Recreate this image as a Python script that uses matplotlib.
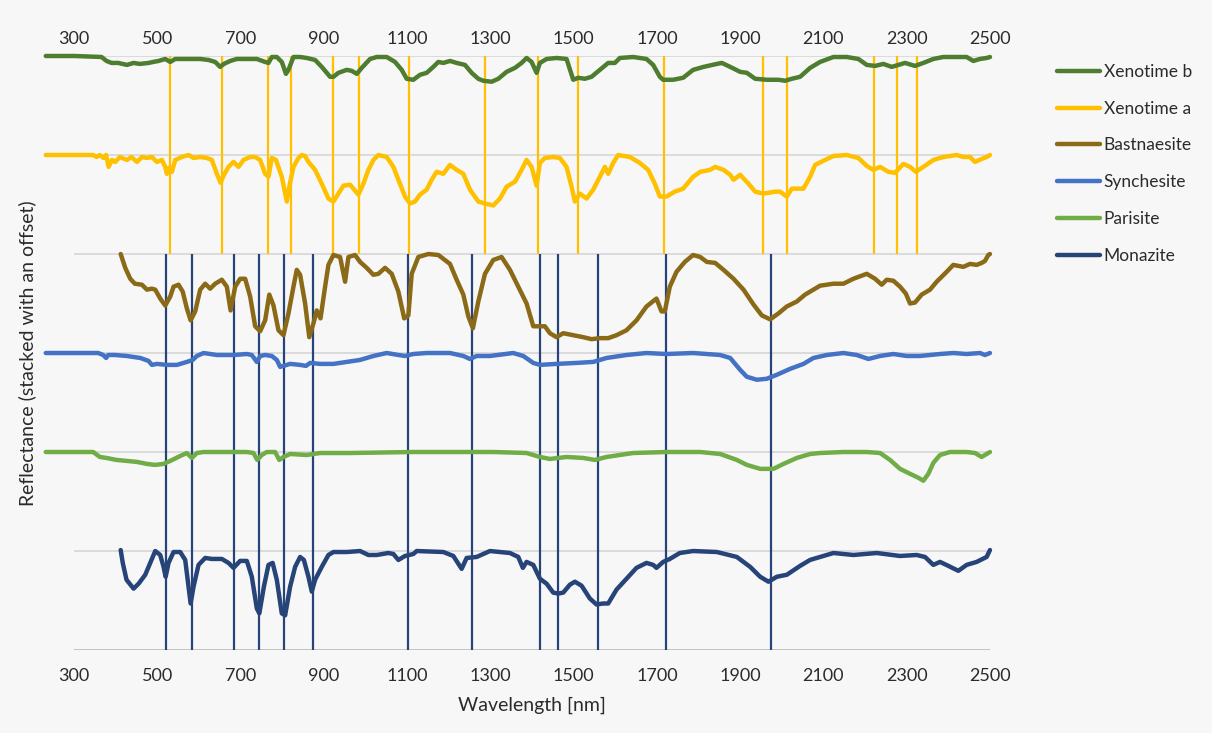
import numpy as np
import matplotlib.pyplot as plt

plt.rcParams['font.family'] = ['Lato', 'DejaVu Sans']

names = ['Xenotime b', 'Xenotime a', 'Bastnaesite', 'Synchesite', 'Parisite', 'Monazite']
colours = ['#4E7D2F', '#FFC000', '#8A6A17', '#4472C4', '#70AD47', '#264478']
offsets = [5, 4, 3, 2, 1, 0]

# (wavelength nm, normalised reflectance)
xeno_b = [(232, 1.00), (302, 1.00), (366, 0.99), (378, 0.95), (390, 0.93), (406, 0.93),
          (427, 0.91), (443, 0.93), (458, 0.92), (479, 0.93), (490, 0.94), (503, 0.95),
          (519, 0.97), (531, 0.94), (543, 0.97), (559, 0.97), (583, 0.97), (603, 0.97),
          (623, 0.96), (639, 0.94), (651, 0.89), (660, 0.92), (675, 0.95), (691, 0.97),
          (715, 0.97), (739, 0.97), (759, 0.94), (767, 0.93), (775, 0.99), (787, 0.99),
          (799, 0.94), (809, 0.82), (815, 0.86), (827, 0.99), (843, 0.99), (859, 0.98),
          (879, 0.96), (895, 0.89), (915, 0.79), (923, 0.79), (935, 0.83), (955, 0.86),
          (967, 0.85), (979, 0.82), (991, 0.88), (1011, 0.97), (1027, 0.99), (1051, 0.99),
          (1071, 0.94), (1087, 0.86), (1099, 0.77), (1115, 0.76), (1131, 0.81), (1147, 0.83),
          (1163, 0.89), (1175, 0.94), (1187, 0.93), (1203, 0.95), (1219, 0.93), (1239, 0.91),
          (1255, 0.83), (1271, 0.77), (1283, 0.75), (1303, 0.74), (1319, 0.77), (1339, 0.84),
          (1359, 0.88), (1375, 0.93), (1387, 0.98), (1399, 0.94), (1411, 0.83), (1419, 0.93),
          (1435, 0.97), (1459, 0.98), (1483, 0.97), (1499, 0.76), (1511, 0.78), (1527, 0.77),
          (1543, 0.79), (1563, 0.86), (1583, 0.93), (1599, 0.93), (1611, 0.98), (1643, 0.99),
          (1675, 0.97), (1691, 0.91), (1707, 0.79), (1715, 0.76), (1739, 0.76), (1763, 0.78),
          (1787, 0.86), (1812, 0.89), (1844, 0.92), (1856, 0.93), (1876, 0.89), (1900, 0.84),
          (1916, 0.83), (1936, 0.77), (1964, 0.76), (1992, 0.76), (2008, 0.75), (2024, 0.77),
          (2044, 0.79), (2068, 0.88), (2092, 0.94), (2124, 0.99), (2156, 0.99), (2184, 0.97),
          (2204, 0.91), (2224, 0.90), (2244, 0.92), (2264, 0.89), (2280, 0.91), (2296, 0.93),
          (2320, 0.90), (2340, 0.93), (2364, 0.97), (2388, 0.99), (2420, 0.99), (2444, 0.99),
          (2460, 0.95), (2476, 0.97), (2492, 0.98), (2500, 0.99)]

xeno_a = [(232, 1.00), (346, 1.00), (354, 0.98), (362, 1.00), (371, 0.97), (377, 1.00),
          (383, 0.88), (391, 0.95), (399, 0.93), (410, 0.98), (427, 0.95), (438, 0.98),
          (451, 0.93), (463, 0.98), (475, 0.97), (487, 0.98), (499, 0.93), (511, 0.95),
          (519, 0.88), (523, 0.81), (527, 0.87), (535, 0.83), (543, 0.95), (559, 0.98),
          (575, 1.00), (587, 0.97), (603, 0.98), (619, 0.97), (631, 0.95), (643, 0.81),
          (652, 0.72), (660, 0.80), (671, 0.88), (683, 0.93), (695, 0.88), (707, 0.95),
          (723, 0.98), (735, 0.98), (747, 0.95), (759, 0.81), (767, 0.78), (775, 0.97),
          (785, 0.95), (799, 0.78), (811, 0.53), (817, 0.68), (827, 0.88), (839, 0.97),
          (847, 1.00), (855, 0.99), (863, 0.93), (879, 0.85), (895, 0.71), (911, 0.56),
          (923, 0.53), (935, 0.61), (947, 0.69), (963, 0.70), (971, 0.66), (983, 0.60),
          (995, 0.71), (1007, 0.85), (1019, 0.95), (1031, 1.00), (1051, 0.98), (1067, 0.88),
          (1083, 0.71), (1095, 0.58), (1107, 0.51), (1119, 0.53), (1131, 0.60), (1147, 0.65),
          (1159, 0.75), (1171, 0.83), (1187, 0.81), (1203, 0.90), (1219, 0.85), (1235, 0.81),
          (1251, 0.65), (1271, 0.53), (1287, 0.51), (1307, 0.49), (1323, 0.56), (1339, 0.68),
          (1359, 0.73), (1375, 0.85), (1387, 0.95), (1399, 0.88), (1411, 0.69), (1419, 0.92),
          (1431, 0.97), (1451, 0.98), (1467, 0.97), (1483, 0.88), (1495, 0.68), (1503, 0.53),
          (1515, 0.61), (1531, 0.56), (1547, 0.65), (1563, 0.78), (1575, 0.88), (1583, 0.81),
          (1595, 0.92), (1607, 1.00), (1635, 0.98), (1659, 0.92), (1679, 0.85), (1695, 0.71),
          (1707, 0.58), (1723, 0.58), (1743, 0.63), (1763, 0.66), (1787, 0.78), (1804, 0.83),
          (1828, 0.85), (1840, 0.88), (1860, 0.85), (1876, 0.80), (1884, 0.75), (1900, 0.80),
          (1920, 0.71), (1936, 0.63), (1956, 0.61), (1984, 0.63), (1996, 0.63), (2012, 0.58),
          (2024, 0.66), (2052, 0.66), (2068, 0.78), (2080, 0.90), (2104, 0.95), (2124, 0.99),
          (2156, 1.00), (2184, 0.97), (2204, 0.89), (2220, 0.85), (2236, 0.88), (2256, 0.83),
          (2272, 0.82), (2292, 0.91), (2308, 0.88), (2322, 0.83), (2340, 0.88), (2364, 0.95),
          (2388, 0.98), (2420, 1.00), (2436, 0.98), (2452, 0.98), (2464, 0.93), (2480, 0.96),
          (2492, 0.98), (2500, 1.00)]

bastnaesite = [(412, 1.00), (423, 0.86), (435, 0.75), (446, 0.70), (463, 0.69), (475, 0.64),
               (487, 0.65), (495, 0.64), (507, 0.55), (519, 0.48), (531, 0.57), (539, 0.67),
               (551, 0.69), (561, 0.62), (571, 0.45), (580, 0.33), (591, 0.42), (603, 0.64),
               (615, 0.70), (627, 0.65), (639, 0.70), (655, 0.74), (667, 0.67), (676, 0.43),
               (687, 0.67), (699, 0.75), (711, 0.75), (723, 0.57), (735, 0.27), (747, 0.22),
               (759, 0.33), (769, 0.59), (779, 0.48), (791, 0.23), (803, 0.18), (815, 0.40),
               (827, 0.67), (835, 0.84), (843, 0.79), (855, 0.50), (865, 0.16), (875, 0.30),
               (883, 0.43), (892, 0.35), (903, 0.67), (911, 0.89), (923, 0.99), (939, 0.97),
               (951, 0.72), (959, 0.97), (975, 0.99), (987, 0.92), (1003, 0.86), (1019, 0.79),
               (1031, 0.80), (1047, 0.86), (1063, 0.80), (1079, 0.62), (1093, 0.35), (1103, 0.38),
               (1111, 0.80), (1127, 0.97), (1151, 1.00), (1175, 0.99), (1203, 0.90), (1219, 0.74),
               (1235, 0.59), (1247, 0.37), (1258, 0.25), (1271, 0.52), (1287, 0.80), (1307, 0.94),
               (1327, 0.97), (1347, 0.84), (1367, 0.67), (1387, 0.50), (1403, 0.27), (1419, 0.27),
               (1431, 0.27), (1443, 0.20), (1459, 0.16), (1475, 0.20), (1499, 0.18), (1523, 0.16),
               (1543, 0.14), (1563, 0.15), (1583, 0.15), (1603, 0.18), (1627, 0.23), (1651, 0.33),
               (1675, 0.47), (1699, 0.55), (1711, 0.42), (1719, 0.42), (1731, 0.67), (1747, 0.82),
               (1767, 0.92), (1787, 0.99), (1804, 0.97), (1820, 0.92), (1840, 0.91), (1860, 0.84),
               (1884, 0.75), (1908, 0.64), (1932, 0.49), (1952, 0.38), (1972, 0.34), (1992, 0.40),
               (2012, 0.47), (2036, 0.52), (2056, 0.59), (2076, 0.64), (2092, 0.68), (2124, 0.70),
               (2148, 0.70), (2172, 0.75), (2204, 0.80), (2224, 0.75), (2240, 0.69), (2252, 0.74),
               (2268, 0.73), (2284, 0.67), (2298, 0.60), (2308, 0.50), (2320, 0.51), (2336, 0.59),
               (2356, 0.64), (2372, 0.72), (2396, 0.82), (2412, 0.89), (2436, 0.87), (2452, 0.90),
               (2468, 0.89), (2480, 0.91), (2488, 0.93), (2496, 0.99), (2500, 1.00)]

synchesite = [(232, 1.00), (358, 1.00), (370, 0.98), (377, 0.95), (382, 0.98), (398, 0.98),
              (427, 0.97), (459, 0.95), (479, 0.92), (487, 0.88), (499, 0.89), (523, 0.88),
              (547, 0.88), (571, 0.91), (585, 0.93), (595, 0.97), (611, 1.00), (643, 0.98),
              (683, 0.98), (715, 0.99), (727, 0.98), (739, 0.91), (747, 0.97), (759, 0.98),
              (775, 0.97), (787, 0.93), (795, 0.86), (803, 0.87), (819, 0.89), (843, 0.88),
              (857, 0.87), (867, 0.90), (891, 0.89), (923, 0.89), (955, 0.91), (987, 0.93),
              (1019, 0.97), (1051, 1.00), (1079, 0.98), (1095, 0.97), (1115, 0.99), (1147, 1.00),
              (1203, 1.00), (1235, 0.97), (1251, 0.94), (1267, 0.97), (1299, 0.97), (1355, 1.00),
              (1379, 0.97), (1403, 0.90), (1419, 0.88), (1459, 0.89), (1507, 0.90), (1547, 0.91),
              (1579, 0.95), (1627, 0.98), (1675, 1.00), (1723, 0.99), (1787, 1.00), (1852, 0.98),
              (1876, 0.95), (1900, 0.83), (1916, 0.76), (1940, 0.73), (1964, 0.74), (1988, 0.78),
              (2020, 0.84), (2052, 0.89), (2076, 0.95), (2108, 0.98), (2148, 1.00), (2180, 0.98),
              (2208, 0.94), (2236, 0.97), (2268, 0.99), (2300, 0.97), (2332, 0.97), (2380, 0.99),
              (2412, 1.00), (2444, 0.99), (2476, 1.00), (2488, 0.98), (2500, 1.00)]

parisite = [(232, 1.00), (346, 1.00), (362, 0.95), (378, 0.94), (402, 0.92), (427, 0.91),
            (451, 0.90), (475, 0.88), (494, 0.87), (515, 0.88), (531, 0.91), (555, 0.96),
            (571, 0.99), (583, 0.94), (595, 0.99), (611, 1.00), (643, 1.00), (683, 1.00),
            (715, 1.00), (731, 0.99), (740, 0.92), (751, 0.97), (763, 1.00), (783, 1.00),
            (793, 0.92), (803, 0.95), (819, 0.98), (859, 0.97), (891, 0.99), (963, 0.99),
            (1115, 1.00), (1203, 1.00), (1307, 1.00), (1387, 0.99), (1419, 0.95), (1443, 0.93),
            (1483, 0.95), (1523, 0.94), (1551, 0.92), (1579, 0.95), (1643, 0.99), (1723, 1.00),
            (1804, 1.00), (1852, 0.98), (1892, 0.92), (1916, 0.87), (1948, 0.83), (1980, 0.83),
            (2004, 0.88), (2036, 0.94), (2068, 0.98), (2092, 0.99), (2148, 1.00), (2204, 1.00),
            (2236, 0.99), (2260, 0.92), (2284, 0.83), (2308, 0.78), (2328, 0.74), (2340, 0.71),
            (2352, 0.78), (2364, 0.89), (2380, 0.97), (2404, 1.00), (2444, 1.00), (2464, 0.99),
            (2480, 0.95), (2492, 0.98), (2500, 1.00)]

monazite = [(412, 1.01), (417, 0.88), (426, 0.71), (443, 0.62), (455, 0.67), (471, 0.76),
            (483, 0.88), (495, 1.00), (507, 0.96), (515, 0.84), (520, 0.74), (527, 0.88),
            (539, 0.99), (555, 0.99), (567, 0.91), (575, 0.64), (580, 0.47), (587, 0.64),
            (599, 0.86), (615, 0.93), (631, 0.92), (655, 0.92), (671, 0.88), (683, 0.83),
            (699, 0.90), (715, 0.90), (727, 0.74), (739, 0.42), (745, 0.37), (756, 0.64),
            (767, 0.86), (777, 0.88), (787, 0.71), (799, 0.37), (807, 0.35), (819, 0.64),
            (831, 0.84), (843, 0.94), (852, 0.91), (863, 0.74), (871, 0.59), (879, 0.71),
            (895, 0.84), (911, 0.96), (923, 0.99), (955, 0.99), (987, 1.00), (1007, 0.96),
            (1027, 0.96), (1055, 0.98), (1067, 0.97), (1079, 0.91), (1095, 0.95), (1115, 0.97),
            (1123, 1.00), (1187, 0.99), (1211, 0.95), (1231, 0.82), (1243, 0.93), (1267, 0.94),
            (1299, 1.00), (1347, 0.98), (1367, 0.94), (1378, 0.83), (1387, 0.89), (1403, 0.86),
            (1419, 0.72), (1435, 0.67), (1451, 0.58), (1463, 0.57), (1475, 0.58), (1491, 0.66),
            (1503, 0.69), (1519, 0.65), (1539, 0.52), (1555, 0.46), (1571, 0.47), (1583, 0.47),
            (1603, 0.61), (1627, 0.72), (1651, 0.83), (1675, 0.88), (1691, 0.86), (1699, 0.83),
            (1715, 0.89), (1731, 0.92), (1755, 0.98), (1787, 1.00), (1844, 0.99), (1892, 0.94),
            (1924, 0.84), (1948, 0.74), (1968, 0.69), (1988, 0.74), (2012, 0.76), (2044, 0.85),
            (2068, 0.91), (2092, 0.94), (2124, 0.98), (2172, 0.96), (2228, 0.98), (2284, 0.95),
            (2324, 0.96), (2344, 0.94), (2364, 0.86), (2380, 0.89), (2400, 0.85), (2424, 0.80),
            (2444, 0.86), (2468, 0.89), (2492, 0.94), (2500, 1.01)]

spectra = [xeno_b, xeno_a, bastnaesite, synchesite, parisite, monazite]

# absorption features marked across the plot
xeno_a_features = [531, 655, 767, 820, 923, 985, 1105, 1286, 1414, 1511, 1717,
                   1956, 2013, 2221, 2276, 2325]
monazite_features = [520, 584, 683, 744, 804, 873, 1101, 1257, 1419, 1462, 1559,
                     1721, 1973]

bg = '#F8F7F8'
text_c = '#2B2B2B'
ticks = list(range(300, 2501, 200))

fig = plt.figure(figsize=(12.12, 7.33), dpi=100, facecolor=bg)
ax = fig.add_axes([0.0611, 0.1132, 0.7557, 0.8104], facecolor=bg)

for y in range(7):
    ax.axhline(y, color='#BFBFBF' if y == 0 else '#D9D9D9', lw=1.3, zorder=0)

ax.vlines(xeno_a_features, 4, 6, color='#FFC000', lw=1.6, zorder=1)
ax.vlines(monazite_features, 0, 4, color='#264478', lw=1.6, zorder=1)

for spectrum, name, colour, off in zip(spectra, names, colours, offsets):
    wl, refl = np.array(spectrum).T
    ax.plot(wl, refl + off, color=colour, lw=3.2, label=name, clip_on=False,
            solid_joinstyle='round', solid_capstyle='round', zorder=2)

ax.set_xlim(300, 2500)
ax.set_ylim(0, 6)
ax.set_xticks(ticks)
ax.set_yticks([])
ax.tick_params(axis='x', length=0, labelsize=13, labelcolor=text_c, pad=13)
for spine in ax.spines.values():
    spine.set_visible(False)

top = ax.secondary_xaxis('top')
top.set_xticks(ticks)
top.tick_params(axis='x', length=0, labelsize=13, labelcolor=text_c, pad=6.5)
for spine in top.spines.values():
    spine.set_visible(False)

ax.set_xlabel('Wavelength [nm]', fontsize=14, color=text_c, labelpad=9)
ax.set_ylabel('Reflectance (stacked with an offset)', fontsize=14, color=text_c, labelpad=27)

ax.legend(loc='upper left', bbox_to_anchor=(0.872, 0.913), bbox_transform=fig.transFigure,
          frameon=False, fontsize=12.5, handlelength=2.5, handletextpad=0.2,
          labelspacing=1.2, borderpad=0, borderaxespad=0, labelcolor=text_c)

fig.savefig('out.png', dpi=100, facecolor=bg)
